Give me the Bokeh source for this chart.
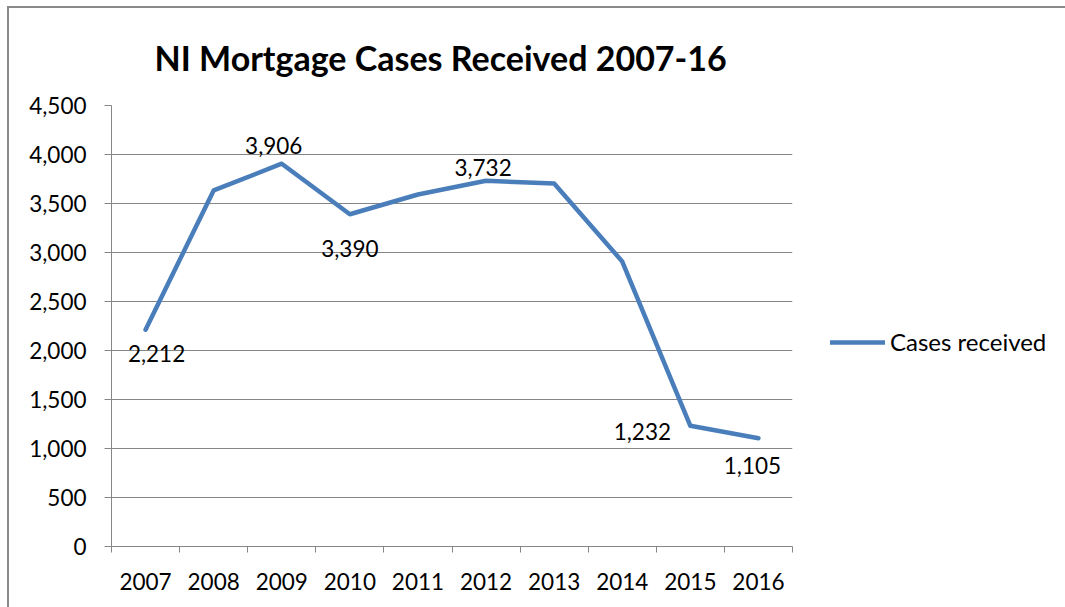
from bokeh.plotting import figure
from bokeh.layouts import row
from bokeh.models import (ColumnDataSource, FixedTicker, NumeralTickFormatter,
                          BasicTickFormatter, Legend, LegendItem, Range1d)
from bokeh.embed import file_html
from bokeh.resources import INLINE
from bokeh.core.properties import value

# ---- data ----
years = [2007, 2008, 2009, 2010, 2011, 2012, 2013, 2014, 2015, 2016]
cases = [2212, 3633, 3906, 3390, 3592, 3732, 3704, 2908, 1232, 1105]
shown_labels = [True, False, True, True, False, True, False, False, True, True]
y_ticks = [0, 500, 1000, 1500, 2000, 2500, 3000, 3500, 4000, 4500]
title_text = "NI Mortgage Cases Received 2007-16"
series_name = "Cases received"

# ---- style ----
FONT = "Lato"
GRID = "#868686"
BORDER = "#8a8a8a"
LINE = "#4A7EBB"
TICK_FS = "22.5px"
# label offsets (screen px) per point
label_dx = [11, 0, -8, 0, 0, -3, 0, 0, -48, -6]
label_dy = [24, 0, -18, 34, 0, -13, 0, 0, 6, 27]

label_text = [f"{v:,}" if s else "" for v, s in zip(cases, shown_labels)]
src = ColumnDataSource(dict(year=years, cases=cases, label=label_text,
                            dx=label_dx, dy=label_dy))

MAIN_W = 830
H = 607
p = figure(width=MAIN_W, height=H, output_backend="svg", toolbar_location=None,
           x_range=Range1d(2006.5, 2016.5), y_range=Range1d(0, 4500),
           min_border_left=111, min_border_right=MAIN_W - 792,
           min_border_top=105, min_border_bottom=H - 546)
p.styles = {
    "background": f"linear-gradient({BORDER},{BORDER}) 7px 6px / 2px 100% no-repeat, "
                  f"linear-gradient({BORDER},{BORDER}) 7px 6px / 100% 2px no-repeat, white"
}
p.outline_line_color = None
p.background_fill_color = "white"
p.border_fill_alpha = 0

# title
p.title.text = title_text
p.title.text_font = FONT
p.title.text_font_size = "34px"
p.title.text_font_style = "bold"
p.title.text_color = "black"
p.title.align = "left"
p.title.offset = 43
p.title.standoff = 56

# axes
xa = p.xaxis[0]
xa.ticker = FixedTicker(ticks=years, minor_ticks=[2006.5 + i for i in range(11)])
xa.formatter = BasicTickFormatter(use_scientific=False)
xa.major_tick_out = 0
xa.major_tick_in = 0
xa.minor_tick_out = 6
xa.minor_tick_in = 0
xa.minor_tick_line_color = GRID
xa.axis_line_color = GRID
xa.major_label_text_font = FONT
xa.major_label_text_font_size = TICK_FS
xa.major_label_text_color = "black"
xa.major_label_standoff = 20

ya = p.yaxis[0]
ya.ticker = FixedTicker(ticks=y_ticks)
ya.formatter = NumeralTickFormatter(format="0,0")
ya.major_tick_out = 7
ya.major_tick_in = 0
ya.minor_tick_line_color = None
ya.major_tick_line_color = GRID
ya.axis_line_color = GRID
ya.major_label_text_font = FONT
ya.major_label_text_font_size = TICK_FS
ya.major_label_text_color = "black"
ya.major_label_standoff = 18

p.xgrid.grid_line_color = None
p.ygrid.ticker = FixedTicker(ticks=y_ticks)
p.ygrid.grid_line_color = GRID

# line
r = p.line(x="year", y="cases", source=src, line_color=LINE, line_width=4.5,
           line_join="round", line_cap="round")

# data labels
p.text(x="year", y="cases", text="label", source=src, x_offset="dx", y_offset="dy",
       text_font=value(FONT), text_font_size=TICK_FS, text_color="black",
       text_align="center", text_baseline="middle")

# legend panel (separate canvas to the right of the plot area);
# it carries the same series, outside its visible ranges, only for the legend key
p2 = figure(width=1065 - MAIN_W, height=H, output_backend="svg", toolbar_location=None,
            x_range=Range1d(0, 1), y_range=Range1d(0, 1),
            x_axis_type=None, y_axis_type=None, min_border=0)
p2.styles = {
    "background": f"linear-gradient({BORDER},{BORDER}) 0 6px / 100% 2px no-repeat, white"
}
p2.grid.visible = False
p2.outline_line_color = None
p2.background_fill_alpha = 0
p2.border_fill_alpha = 0
r2 = p2.line(x="year", y="cases", source=src, line_color=LINE, line_width=4.5,
             line_cap="round")

legend = Legend(items=[LegendItem(label=series_name, renderers=[r2])],
                location=(0, 190), orientation="vertical",
                glyph_width=55, glyph_height=20, label_height=20, label_standoff=5,
                padding=0, margin=0, spacing=0,
                border_line_color=None, background_fill_alpha=0,
                label_text_font=FONT, label_text_font_size="24px",
                label_text_color="black")
p2.add_layout(legend, "center")

open("out.html", "w").write(file_html(row(p, p2), INLINE))
